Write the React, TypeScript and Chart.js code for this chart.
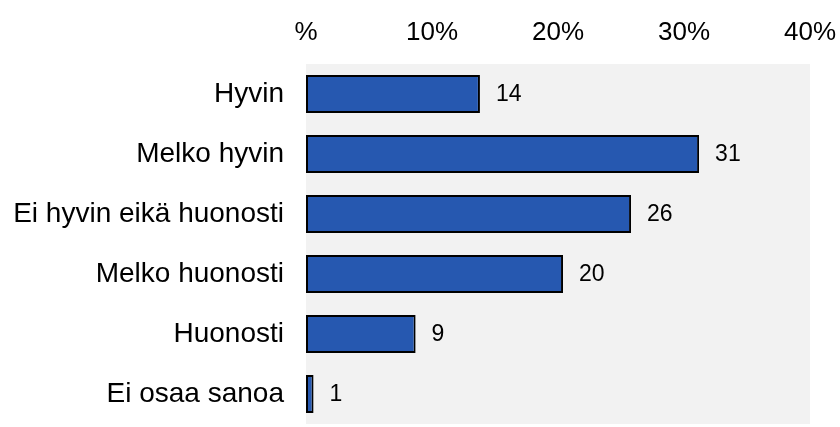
import React, { useEffect, useRef } from "react";
import { Chart, registerables } from "chart.js";

Chart.register(...registerables);

const categories = [
  "Hyvin",
  "Melko hyvin",
  "Ei hyvin eikä huonosti",
  "Melko huonosti",
  "Huonosti",
  "Ei osaa sanoa",
];
const values = [13.8, 31.2, 25.8, 20.4, 8.7, 0.6];
const dataLabels = ["14", "31", "26", "20", "9", "1"];
const xTicks = [0, 10, 20, 30, 40];

const FONT = "'Liberation Sans', Arial, sans-serif";

const bgPlugin = {
  id: "plotBg",
  beforeDatasetsDraw(chart: any) {
    const { ctx, chartArea } = chart;
    ctx.save();
    ctx.fillStyle = "#f2f2f2";
    ctx.fillRect(chartArea.left, chartArea.top, chartArea.right - chartArea.left, chartArea.bottom - chartArea.top);
    ctx.restore();
  },
};

const labelPlugin = {
  id: "barLabels",
  afterDatasetsDraw(chart: any) {
    const { ctx } = chart;
    const meta = chart.getDatasetMeta(0);
    ctx.save();
    ctx.fillStyle = "#000";
    ctx.font = `23px ${FONT}`;
    ctx.textAlign = "left";
    ctx.textBaseline = "middle";
    meta.data.forEach((bar: any, i: number) => {
      ctx.fillText(dataLabels[i], bar.x + 16, bar.y + 1);
    });
    ctx.restore();
  },
};

export default function App() {
  const ref = useRef<HTMLCanvasElement>(null);
  useEffect(() => {
    if (!ref.current) return;
    const chart = new Chart(ref.current, {
      type: "bar",
      data: {
        labels: categories,
        datasets: [
          {
            data: values,
            backgroundColor: "#2658B0",
            borderColor: "#000000",
            borderWidth: 2,
            borderSkipped: false,
            categoryPercentage: 1,
            barPercentage: 0.63,
          },
        ],
      },
      options: {
        indexAxis: "y",
        animation: false,
        responsive: false,
        layout: { padding: { left: 0, right: 30, top: 0, bottom: 3 } },
        plugins: { legend: { display: false }, tooltip: { enabled: false } },
        scales: {
          x: {
            position: "top",
            min: 0,
            max: 40,
            afterBuildTicks(scale: any) {
              scale.ticks = xTicks.map((v) => ({ value: v }));
            },
            afterFit(scale: any) {
              scale.height = 64;
              scale.paddingLeft = 0;
              scale.paddingRight = 0;
            },
            grid: { display: false, drawTicks: false },
            border: { display: false },
            ticks: {
              color: "#000",
              font: { family: FONT, size: 26 },
              padding: 16,
              maxRotation: 0,
              callback: (v: any) => (Number(v) === 0 ? "%" : `${v}%`),
            },
          },
          y: {
            afterFit(scale: any) {
              scale.width = 306;
              scale.paddingTop = 0;
              scale.paddingBottom = 0;
            },
            grid: { display: false, drawTicks: false },
            border: { display: false },
            ticks: {
              color: "#000",
              font: { family: FONT, size: 28 },
              padding: 22,
            },
          },
        },
      },
      plugins: [bgPlugin, labelPlugin],
    });
    return () => chart.destroy();
  }, []);
  return (
    <div style={{ position: "fixed", left: 0, top: 0, width: 840, height: 427, background: "#fff" }}>
      <canvas ref={ref} width={840} height={427} style={{ display: "block" }} />
    </div>
  );
}
